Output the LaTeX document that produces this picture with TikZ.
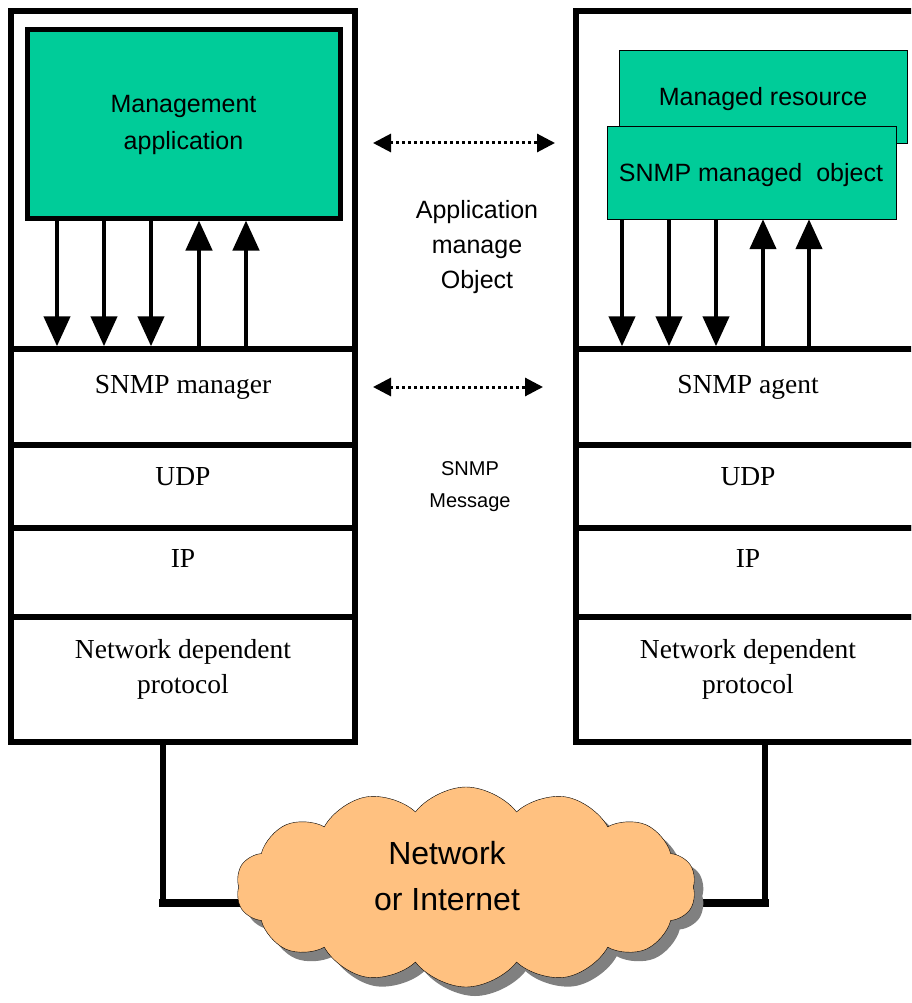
\documentclass[tikz,border=0pt]{standalone}
\usepackage{fontspec}
\setmainfont{Liberation Serif}
\setsansfont{Liberation Sans}
\usetikzlibrary{arrows.meta,positioning,shapes.symbols,shadows,backgrounds}
\definecolor{snmpgreen}{RGB}{0,204,153}
\definecolor{cloudorange}{RGB}{255,193,128}

\begin{document}
\begin{tikzpicture}[x=1pt,y=-1pt,
    stack/.style={draw, line width=5.5pt, rectangle, inner sep=0pt, minimum width=344pt},
    layer/.style={stack, minimum height=#1},
    greenbox/.style={draw, fill=snmpgreen, rectangle, inner sep=0pt},
    sertext/.style={inner sep=0pt, align=center, font=\fontsize{27.5}{35}\selectfont},
    sanstext/.style={inner sep=0pt, align=center, font=\sffamily\fontsize{25}{35}\selectfont},
    call/.style={line width=4.5pt, -{Triangle[length=30pt,width=26pt]}},
    peer/.style={line width=3pt, dash pattern=on 3pt off 3pt,
      {Triangle[length=18pt,width=18pt]}-{Triangle[length=18pt,width=18pt]}},
    wire/.style={line width=5.5pt},
  ]
  \useasboundingbox (0,0) rectangle (911,1003);
  \clip (0,0) rectangle (911,1003);

  % protocol stacks
  \foreach \side/\cx/\role in {mgr/183/manager, agt/748/agent} {
    \node[layer=731] (\side) at (\cx,376.5) {};
    \node[layer=96] (\side-snmp) at (\cx,397) {};
    \node[layer=83] (\side-udp) at (\cx,486.5) {};
    \node[layer=89] (\side-ip) at (\cx,572.5) {};
    \node[layer=125] (\side-net) at (\cx,679.5) {};
    \node[sertext, below=29pt of \side-snmp.north] {SNMP \role};
    \node[sertext, below=25pt of \side-udp.north] {UDP};
    \node[sertext, below=24pt of \side-ip.north] {IP};
    \node[sertext, below=25pt of \side-net.north] {Network dependent\\protocol};
  }

  % manager side
  \node[greenbox, line width=5pt, minimum width=313pt, minimum height=188pt] (mgrapp) at (183.5,124)
    {\sffamily\fontsize{25}{37}\selectfont\begin{tabular}{c}Management\\application\end{tabular}};
  \foreach \x in {57,104,151}
    \draw[call] (mgrapp.south -| \x,0) -- (mgr-snmp.north -| \x,0);
  \foreach \x in {199,246}
    \draw[call] (mgr-snmp.north -| \x,0) -- (mgrapp.south -| \x,0);

  % agent side
  \node[greenbox, minimum width=288pt, minimum height=93pt] (mres) at (763,96.5) {};
  \node[sanstext] at (763,99) {Managed resource};
  \node[greenbox, minimum width=289pt, minimum height=93pt] (mobj) at (751.5,172.5) {};
  \node[sanstext] at (751,175) {SNMP managed~ object};
  \foreach \x in {622,669,716}
    \draw[call] (mobj.south -| \x,0) -- (agt-snmp.north -| \x,0);
  \foreach \x in {763,809}
    \draw[call] (agt-snmp.north -| \x,0) -- (mobj.south -| \x,0);

  % peer exchanges
  \coordinate (appL) at (373,143);
  \coordinate (appR) at (555,143);
  \coordinate (msgL) at (373,387);
  \coordinate (msgR) at (543,387);
  \draw[peer] (appL) -- (appR);
  \draw[peer] (msgL) -- (msgR);
  \node[sanstext] (amo) at (477,247) {Application\\manage\\Object};
  \node[sanstext, font=\sffamily\fontsize{20}{32}\selectfont] (smsg) at (470,487) {SNMP\\Message};

  % network
  \node[cloud, cloud puffs=14, cloud puff arc=105, aspect=2.3, draw, thin, fill=cloudorange,
    minimum width=460pt, minimum height=200pt,
    drop shadow={shadow xshift=9pt, shadow yshift=-9pt, fill=black!50, opacity=1}]
    (net) at (466,887) {};
  \node[sanstext, font=\sffamily\fontsize{32}{46}\selectfont] at (447,876) {Network\\or Internet};
  \coordinate (mgrdrop) at (163,903);
  \coordinate (agtdrop) at (765,903);
  \begin{pgfonlayer}{background}
    \draw[wire] (mgr-net.south -| mgrdrop) -- (mgrdrop);
    \draw[wire] (agt-net.south -| agtdrop) -- (agtdrop);
    \draw[wire, line width=8pt, line cap=rect] (mgrdrop) -- (net.center |- mgrdrop);
    \draw[wire, line width=8pt, line cap=rect] (agtdrop) -- (net.center |- agtdrop);
  \end{pgfonlayer}
\end{tikzpicture}
\end{document}
